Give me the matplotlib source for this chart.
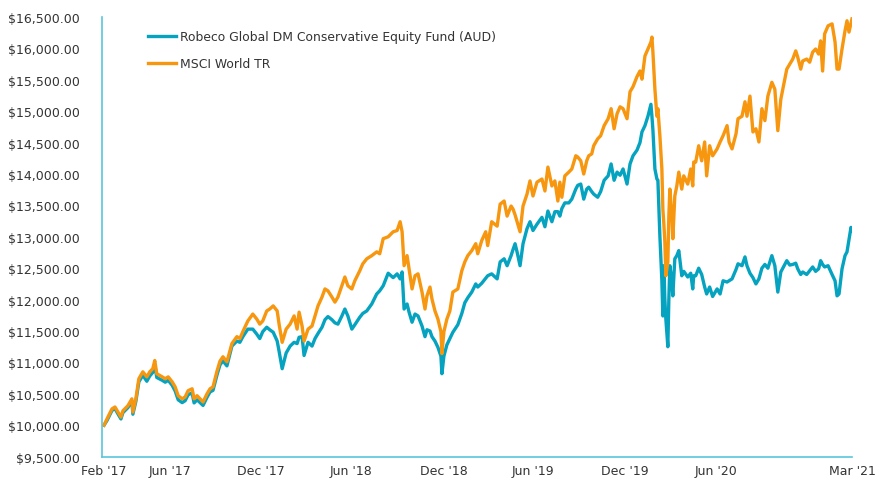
import matplotlib
matplotlib.use("Agg")
import matplotlib.pyplot as plt
import pandas as pd

# days after 17 Feb 2017
days = [0, 6, 16, 22, 28, 34, 38, 48, 56, 58, 64, 70, 78, 86, 92, 98, 102, 106, 117, 123,
        129, 137, 143, 149, 157, 163, 169, 177, 181, 187, 193, 199, 207, 213, 219, 227, 233, 239, 247, 257,
        267, 273, 279, 289, 299, 307, 313, 319, 327, 333, 340, 348, 352, 358, 366, 374, 382, 388, 392, 398,
        402, 410, 418, 424, 430, 438, 444, 450, 458, 464, 470, 478, 484, 490, 498, 504, 514, 520, 528, 538,
        548, 554, 561, 571, 581, 589, 595, 599, 603, 609, 613, 619, 625, 631, 639, 645, 649, 655, 659, 665,
        671, 677, 679, 683, 689, 695, 701, 711, 719, 725, 731, 739, 747, 751, 759, 767, 771, 779, 790, 796,
        804, 810, 818, 822, 826, 830, 836, 842, 850, 856, 862, 870, 880, 886, 892, 900, 906, 912, 916, 920,
        926, 934, 940, 948, 952, 958, 964, 970, 974, 980, 984, 992, 998, 1005, 1013, 1019, 1025, 1031, 1037, 1043,
        1051, 1057, 1063, 1071, 1077, 1081, 1087, 1093, 1099, 1101, 1103, 1107, 1111, 1113, 1117, 1121, 1123, 1125, 1127, 1129,
        1133, 1135, 1137, 1141, 1143, 1147, 1151, 1155, 1161, 1165, 1173, 1179, 1183, 1185, 1189, 1195, 1201, 1207, 1211, 1217,
        1223, 1232, 1238, 1244, 1252, 1256, 1262, 1270, 1274, 1282, 1288, 1292, 1298, 1304, 1310, 1316, 1322, 1328, 1334, 1342,
        1348, 1354, 1360, 1364, 1372, 1378, 1384, 1390, 1394, 1400, 1404, 1412, 1418, 1424, 1430, 1436, 1440, 1444, 1448, 1455,
        1463, 1469, 1473, 1477, 1483, 1489, 1493, 1497, 1501, 1503]

msci = [10000, 10100, 10260, 10290, 10210, 10130, 10230, 10310, 10420, 10210, 10420, 10740, 10850, 10770, 10850, 10900, 11030, 10820, 10770, 10740,
        10770, 10690, 10610, 10470, 10420, 10450, 10550, 10580, 10420, 10470, 10420, 10370, 10500, 10580, 10610, 10860, 11020, 11090, 11010, 11300,
        11410, 11380, 11490, 11660, 11770, 11690, 11610, 11660, 11820, 11850, 11900, 11820, 11600, 11320, 11530, 11610, 11740, 11530, 11800, 11580,
        11340, 11530, 11580, 11740, 11900, 12040, 12170, 12140, 12040, 11960, 12040, 12220, 12360, 12220, 12170, 12300, 12460, 12570, 12650, 12700,
        12760, 12730, 12970, 13000, 13080, 13100, 13240, 13080, 12540, 12700, 12490, 12170, 12380, 12410, 12120, 11850, 12060, 12200, 12010, 11820,
        11690, 11490, 11140, 11490, 11690, 11820, 12120, 12170, 12460, 12600, 12700, 12780, 12890, 12730, 12940, 13080, 12860, 13240, 13170, 13520,
        13570, 13330, 13490, 13440, 13350, 13240, 13080, 13490, 13680, 13890, 13650, 13870, 13920, 13730, 14110, 13810, 13890, 13570, 13870, 13630,
        13970, 14030, 14080, 14290, 14270, 14210, 14000, 14210, 14290, 14320, 14450, 14560, 14610, 14770, 14880, 15040, 14720, 14960, 15070, 15040,
        14880, 15310, 15390, 15550, 15640, 15510, 15880, 15990, 16100, 16180, 15940, 15350, 14920, 15040, 14610, 14080, 13440, 13200, 12920, 12380,
        12600, 13330, 13760, 13330, 12970, 13650, 13810, 14030, 13760, 13970, 13840, 14080, 13810, 14190, 14190, 14450, 14210, 14510, 13970, 14450,
        14290, 14400, 14510, 14610, 14770, 14510, 14400, 14640, 14880, 14920, 15150, 14920, 15240, 14670, 14720, 14510, 15040, 14850, 15240, 15460,
        15350, 14690, 15190, 15350, 15670, 15750, 15830, 15960, 15860, 15670, 15800, 15830, 15780, 15940, 15990, 15910, 16120, 15640, 16230, 16360,
        16390, 16100, 15670, 15670, 15990, 16280, 16440, 16260, 16400, 16470]

robeco = [10000, 10075, 10235, 10265, 10180, 10100, 10200, 10280, 10385, 10175, 10380, 10690, 10795, 10700, 10785, 10840, 10965, 10760, 10715, 10685,
          10715, 10635, 10545, 10405, 10360, 10390, 10485, 10515, 10355, 10405, 10360, 10315, 10445, 10530, 10555, 10800, 10960, 11025, 10945, 11260,
          11340, 11320, 11410, 11530, 11530, 11450, 11380, 11490, 11560, 11520, 11480, 11340, 11170, 10900, 11150, 11260, 11320, 11300, 11400, 11410,
          11110, 11320, 11260, 11380, 11460, 11560, 11680, 11730, 11680, 11630, 11610, 11740, 11850, 11740, 11530, 11600, 11720, 11780, 11820, 11930,
          12090, 12140, 12220, 12420, 12350, 12410, 12330, 12440, 11850, 11930, 11800, 11640, 11770, 11740, 11580, 11410, 11520, 11500, 11410, 11340,
          11240, 11100, 10820, 11100, 11280, 11380, 11480, 11600, 11780, 11950, 12030, 12120, 12250, 12200, 12260, 12340, 12380, 12410, 12330, 12600,
          12650, 12540, 12700, 12800, 12890, 12760, 12540, 12890, 13130, 13240, 13100, 13200, 13310, 13160, 13410, 13240, 13400, 13400, 13330, 13450,
          13540, 13540, 13600, 13760, 13820, 13840, 13600, 13760, 13790, 13720, 13680, 13630, 13720, 13900, 13970, 14160, 13900, 14030, 13980, 14080,
          13840, 14160, 14290, 14380, 14500, 14670, 14770, 14920, 15110, 14920, 14700, 14080, 13920, 13900, 13010, 12300, 11740, 12540, 12000, 11690,
          11250, 12000, 12540, 12300, 12060, 12650, 12700, 12780, 12380, 12450, 12360, 12420, 12170, 12380, 12380, 12500, 12400, 12200, 12090, 12200,
          12050, 12170, 12090, 12300, 12280, 12300, 12330, 12480, 12570, 12540, 12680, 12540, 12420, 12350, 12250, 12330, 12500, 12560, 12500, 12700,
          12540, 12120, 12440, 12500, 12620, 12550, 12560, 12580, 12490, 12400, 12440, 12400, 12460, 12520, 12450, 12490, 12620, 12560, 12520, 12540,
          12400, 12300, 12060, 12090, 12490, 12700, 12760, 12950, 13150, 13100]

tick_dates = ["2017-02-17", "2017-06-30", "2017-12-29", "2018-06-29", "2018-12-31",
              "2019-06-28", "2019-12-31", "2020-06-30", "2021-03-31"]
tick_labels = ["Feb '17", "Jun '17", "Dec '17", "Jun '18", "Dec '18",
               "Jun '19", "Dec '19", "Jun '20", "Mar '21"]
yticks = list(range(9500, 17000, 500))

start = pd.Timestamp("2017-02-17")
dates = start + pd.to_timedelta(days, unit="D")

teal = "#05A3BF"
orange = "#F7960F"
spine = "#5BC6DC"
txt = "#333333"

fig = plt.figure(figsize=(8.91, 4.81), dpi=100)
ax = fig.add_axes([0.1145, 0.0486, 0.8417, 0.914])

ax.plot(dates, robeco, color=teal, lw=2.4, solid_joinstyle="round",
        label="Robeco Global DM Conservative Equity Fund (AUD)")
ax.plot(dates, msci, color=orange, lw=2.4, solid_joinstyle="round",
        label="MSCI World TR")

ax.set_xlim(start - pd.Timedelta(days=4), pd.Timestamp(tick_dates[-1]))
ax.set_ylim(9500, 16500)
ax.set_xticks(pd.to_datetime(tick_dates))
ax.set_xticklabels(tick_labels)
ax.set_yticks(yticks)
ax.set_yticklabels(["${:,.2f}".format(v) for v in yticks])
ax.tick_params(length=0, labelsize=9, colors=txt)
ax.tick_params(axis="y", pad=16)
ax.tick_params(axis="x", pad=5)

for s in ["top", "right"]:
    ax.spines[s].set_visible(False)
for s in ["left", "bottom"]:
    ax.spines[s].set_color(spine)
    ax.spines[s].set_linewidth(1.2)

leg = ax.legend(loc="upper left", bbox_to_anchor=(148 / 891, 1 - 31 / 481),
                bbox_transform=fig.transFigure, frameon=False, fontsize=8.9,
                handlelength=2.3, handletextpad=0.25, labelspacing=1.13, borderpad=0,
                borderaxespad=0)
for t in leg.get_texts():
    t.set_color(txt)

fig.savefig("out.png", dpi=100)
